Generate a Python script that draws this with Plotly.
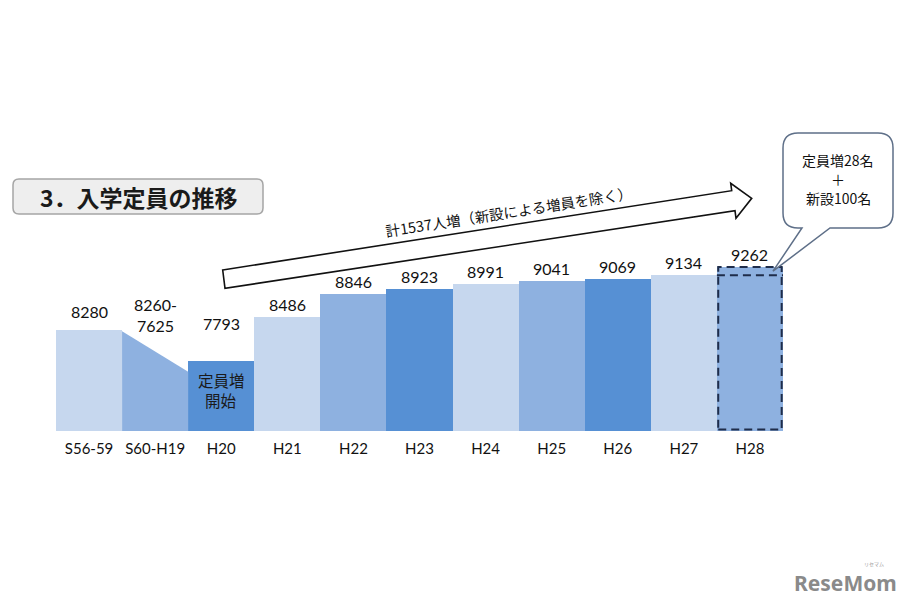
import plotly.graph_objects as go

# ---------------- data ----------------
CATEGORIES = ["S56-59", "S60-H19", "H20", "H21", "H22", "H23", "H24", "H25", "H26", "H27", "H28"]
VALUES = [8280, None, 7793, 8486, 8846, 8923, 8991, 9041, 9069, 9134, 9262]
S60_H19_RANGE = [8260, 7625]          # start / end of the declining period
H28_EXISTING = 9134                   # level before the H28 increase
TITLE = "3．入学定員の推移"
ARROW_TEXT = "計1537人増（新設による増員を除く）"
BUBBLE_LINES = ["定員増28名", "＋", "新設100名"]
H20_NOTE = ["定員増", "開始"]

# ---------------- styles ----------------
LIGHT, MEDIUM, DARK = "#C6D7EE", "#8EB1E0", "#5690D4"
BAR_COLORS = ([LIGHT, MEDIUM, DARK] * 4)[:len(CATEGORIES)]
NUM_FONT = "Lato, Carlito, 'Liberation Sans', sans-serif"
JP_FONT = "'Noto Sans CJK JP', 'Noto Sans', sans-serif"

OFF = 8                     # page body margin
W, H = 910 - OFF, 606 - OFF
ML, MT, PW, PH = 56 - OFF, 100 - OFF, 727, 331
MR, MB = W - ML - PW, H - MT - PH
YMIN = 6700
PX_PER_UNIT = 0.064
YMAX = YMIN + PH / PX_PER_UNIT


def fx(px):  # screen x -> paper
    return (px - OFF - ML) / PW


def fy(py):  # screen y -> paper
    return (MT + PH - (py - OFF)) / PH


def vy(v):
    return (v - YMIN) / (YMAX - YMIN)


def P(x, y):
    return f"{fx(x):.5f},{fy(y):.5f}"


def path_px(points):
    return "M " + " L ".join(P(x, y) for x, y in points) + " Z"


def rounded_rect(x0, y0, x1, y1, r):
    return (f"M {P(x0 + r, y0)} L {P(x1 - r, y0)} Q {P(x1, y0)} {P(x1, y0 + r)} "
            f"L {P(x1, y1 - r)} Q {P(x1, y1)} {P(x1 - r, y1)} L {P(x0 + r, y1)} "
            f"Q {P(x0, y1)} {P(x0, y1 - r)} L {P(x0, y0 + r)} Q {P(x0, y0)} {P(x0 + r, y0)} Z")


idx = list(range(len(CATEGORIES)))
fig = go.Figure()

fig.add_trace(go.Bar(
    x=idx, y=VALUES, width=1,
    marker=dict(color=BAR_COLORS, line=dict(width=0)),
    hoverinfo="skip", showlegend=False,
))

# declining S60-H19 period drawn as a trapezoid
fig.add_trace(go.Scatter(
    x=[0.5, 0.5, 1.5, 1.5], y=[YMIN, S60_H19_RANGE[0], S60_H19_RANGE[1], YMIN],
    mode="lines", fill="toself", fillcolor=BAR_COLORS[1],
    line=dict(width=0, color="rgba(0,0,0,0)"), hoverinfo="skip", showlegend=False,
))

annotations = []
label_font = dict(family=NUM_FONT, size=16, color="#111111")
shifts = {0: 7, 2: 26}
for i, v in enumerate(VALUES):
    if v is None:
        continue
    annotations.append(dict(x=i, y=v, xref="x", yref="y", text=str(v), showarrow=False,
                            xanchor="center", yanchor="bottom", yshift=shifts.get(i, 1),
                            font=label_font))
annotations.append(dict(x=1, y=S60_H19_RANGE[0], xref="x", yref="y",
                        text=f"{S60_H19_RANGE[0]}-<br>{S60_H19_RANGE[1]}", showarrow=False,
                        xanchor="center", yanchor="bottom", yshift=-6, font=label_font))

# note inside H20 bar (one annotation per line)
for k, line in enumerate(H20_NOTE):
    annotations.append(dict(x=2, y=fy(380 + 20 * k), xref="x", yref="paper", text=line,
                            showarrow=False, xanchor="center", yanchor="middle", borderpad=0,
                            font=dict(family=JP_FONT, size=15.5, color="#1a1a1a")))

center = dict(xref="paper", yref="paper", showarrow=False, xanchor="center", yanchor="middle")
# title
annotations.append(dict(x=fx(139), y=fy(197), text=f"<b>{TITLE}</b>",
                        font=dict(family=JP_FONT, size=23, color="#1a1a1a"), **center))
# arrow text
annotations.append(dict(x=fx(508), y=fy(211), text=ARROW_TEXT, textangle=-8.9,
                        font=dict(family=JP_FONT, size=14.5, color="#111111"), **center))
# bubble text (one annotation per line)
for k, line in enumerate(BUBBLE_LINES):
    annotations.append(dict(x=fx(838), y=fy(160 + 19 * k), text=line, borderpad=0,
                            font=dict(family=JP_FONT, size=14, color="#111111"), **center))
# watermark
annotations.append(dict(x=fx(846), y=fy(583), text="<b>ReseMom</b>",
                        font=dict(family="'Noto Sans', sans-serif", size=21, color="#8a8a8a"), **center))
annotations.append(dict(x=fx(874), y=fy(564), text="リセマム", borderpad=0,
                        font=dict(family=JP_FONT, size=5, color="#9a9a9a"), **center))

shapes = []
# title box
shapes.append(dict(type="path", xref="paper", yref="paper", path=rounded_rect(13, 179, 263, 214, 6),
                   fillcolor="#EEEEEE", line=dict(color="#A5A5A5", width=1.5), layer="below"))
# big hollow arrow
arrow_pts = [(222.7, 270), (731.7, 190.7), (730.7, 183.3), (751.7, 198.3),
             (736, 218.3), (735, 210.7), (225, 288.3)]
shapes.append(dict(type="path", xref="paper", yref="paper", path=path_px(arrow_pts),
                   fillcolor="white", line=dict(color="#111111", width=1.6), layer="below"))

# H28 dashed outline and split line
last = len(CATEGORIES) - 1
dash_line = dict(color="#1F2D4A", width=2, dash="8px,5px")
shapes.append(dict(type="rect", xref="x", yref="y", x0=last - 0.5 + 0.02, x1=last + 0.5 - 0.02,
                   y0=YMIN + 1.5 / PX_PER_UNIT, y1=VALUES[last], line=dash_line,
                   fillcolor="rgba(0,0,0,0)", layer="above"))
shapes.append(dict(type="line", xref="x", yref="y", x0=last - 0.5, x1=last + 0.5,
                   y0=H28_EXISTING, y1=H28_EXISTING, line=dash_line, layer="above"))

# speech bubble pointing into the new part of H28
tip_y = MT + PH - vy((H28_EXISTING + VALUES[last]) / 2) * PH + OFF
bx0, by0, bx1, by1, r = 783, 133, 893, 228, 15
bubble = (f"M {P(bx0 + r, by0)} L {P(bx1 - r, by0)} Q {P(bx1, by0)} {P(bx1, by0 + r)} "
          f"L {P(bx1, by1 - r)} Q {P(bx1, by1)} {P(bx1 - r, by1)} L {P(830, by1)} "
          f"L {P(773, tip_y)} L {P(802, by1)} L {P(bx0 + r, by1)} "
          f"Q {P(bx0, by1)} {P(bx0, by1 - r)} L {P(bx0, by0 + r)} Q {P(bx0, by0)} {P(bx0 + r, by0)} Z")
shapes.append(dict(type="path", xref="paper", yref="paper", path=bubble,
                   fillcolor="white", line=dict(color="#5E6F88", width=1.5), layer="above"))

fig.update_layout(
    width=W, height=H,
    margin=dict(l=ML, r=MR, t=MT, b=MB, pad=0),
    paper_bgcolor="white", plot_bgcolor="rgba(0,0,0,0)",
    bargap=0, showlegend=False,
    xaxis=dict(range=[-0.5, len(CATEGORIES) - 0.5], tickvals=idx, ticktext=CATEGORIES,
               showgrid=False, zeroline=False, showline=False, ticks="", ticklabelstandoff=7,
               tickfont=dict(family=NUM_FONT, size=15, color="#111111"), fixedrange=True),
    yaxis=dict(range=[YMIN, YMAX], visible=False, showgrid=False, zeroline=False, fixedrange=True),
    annotations=annotations, shapes=shapes,
)

fig.write_html("out.html", config={"displayModeBar": False})
